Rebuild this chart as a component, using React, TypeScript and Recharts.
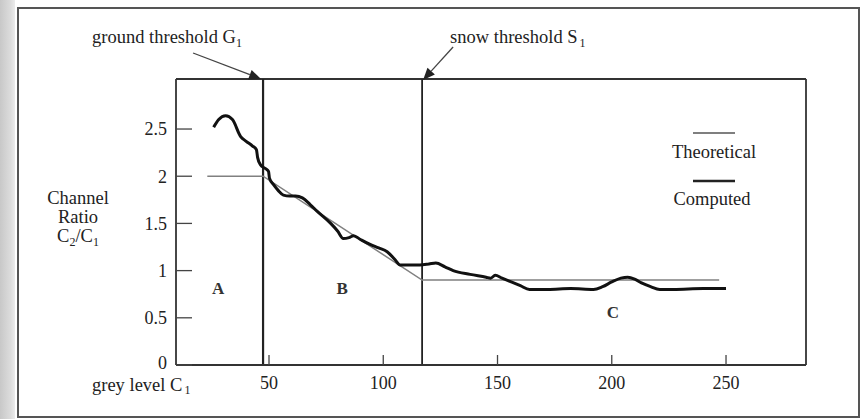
import React from 'react';
import { LineChart, Line, XAxis, YAxis, ReferenceLine, ReferenceDot } from 'recharts';

// ---- data ----
const compX = [25.8, 28, 31, 34, 37.6, 40, 42.8, 44.5, 45.0, 46.3, 48.5, 49.8, 50.2, 52, 54, 56.3, 59, 61.6, 64.6, 68, 71, 77, 80, 82.5, 85, 87, 90, 94, 98, 101.7, 105, 107.4, 112, 116, 120, 123, 127, 130.6, 138, 145, 147, 149, 152, 156, 160, 164, 172, 182, 192, 196, 200, 204, 207, 210, 213, 217, 221, 227, 240, 250];
const compY = [2.52, 2.6, 2.64, 2.6, 2.42, 2.37, 2.32, 2.28, 2.2, 2.12, 2.08, 2.05, 1.98, 1.91, 1.85, 1.8, 1.79, 1.79, 1.77, 1.7, 1.63, 1.5, 1.42, 1.34, 1.35, 1.37, 1.33, 1.28, 1.24, 1.2, 1.12, 1.06, 1.06, 1.06, 1.07, 1.08, 1.04, 1.0, 0.96, 0.93, 0.92, 0.95, 0.92, 0.88, 0.84, 0.8, 0.8, 0.81, 0.8, 0.83, 0.88, 0.92, 0.93, 0.91, 0.87, 0.83, 0.8, 0.8, 0.81, 0.81];

const theoX = [23, 47.4, 117, 247];
const theoY = [2.0, 2.0, 0.9, 0.9];

const groundThreshold = 47.4;
const snowThreshold = 117;

const xTicks = [50, 100, 150, 200, 250];
const yTicks = [0, 0.5, 1, 1.5, 2, 2.5];
const xDomain = [9.3, 285];
const yDomain = [0, 3.03];

const regionLabels = [
  { label: 'A', x: 27.7, y: 0.82 },
  { label: 'B', x: 82, y: 0.82 },
  { label: 'C', x: 200.5, y: 0.56 },
];

const compData = compX.map((x, i) => ({ x, y: compY[i] }));
const theoData = theoX.map((x, i) => ({ x, y: theoY[i] }));

const FONT = '"Liberation Serif", "Times New Roman", serif';
const INK = '#222';

function Arrow({ x1, y1, x2, y2 }: { x1: number; y1: number; x2: number; y2: number }) {
  const dx = x2 - x1;
  const dy = y2 - y1;
  const len = Math.sqrt(dx * dx + dy * dy);
  const ux = dx / len;
  const uy = dy / len;
  const L = 12;
  const W = 5;
  const bx = x2 - ux * L;
  const by = y2 - uy * L;
  const nx = -uy;
  const ny = ux;
  return (
    <g>
      <line x1={x1} y1={y1} x2={bx} y2={by} stroke="#444" strokeWidth={1.3} />
      <polygon
        points={`${x2},${y2} ${bx + nx * W},${by + ny * W} ${bx - nx * W},${by - ny * W}`}
        fill="#222"
      />
    </g>
  );
}

function GroundLabel(props: any) {
  const vb = props.viewBox || {};
  const vx = vb.x;
  const vy = vb.y;
  return (
    <g>
      <Arrow x1={vx - 70} y1={vy - 26} x2={vx - 2} y2={vy} />
      <text x={vx - 171} y={vy - 36} fontFamily={FONT} fontSize={18.5} fill={INK}>
        ground threshold G<tspan fontSize={12} dy={4}>1</tspan>
      </text>
    </g>
  );
}

function SnowLabel(props: any) {
  const vb = props.viewBox || {};
  const vx = vb.x;
  const vy = vb.y;
  return (
    <g>
      <Arrow x1={vx + 31} y1={vy - 32} x2={vx + 1} y2={vy + 1} />
      <text x={vx + 28} y={vy - 36} fontFamily={FONT} fontSize={18.5} fill={INK}>
        snow threshold S<tspan fontSize={12} dy={4} dx={2}>1</tspan>
      </text>
    </g>
  );
}

function YTick(props: any) {
  const { x, y, payload } = props;
  return (
    <g>
      <line x1={x} x2={x + 16} y1={y} y2={y} stroke="#444" strokeWidth={1.3} />
      <text x={x - 9} y={y} dy={payload.value === 0 ? '0.2em' : '0.35em'} textAnchor="end" fontFamily={FONT} fontSize={18} fill={INK}>
        {payload.value}
      </text>
    </g>
  );
}

function XTick(props: any) {
  const { x, y, payload } = props;
  return (
    <g>
      <line x1={x} x2={x} y1={y} y2={y - 10} stroke="#444" strokeWidth={1.3} />
      <text x={x} y={y + 24} textAnchor="middle" fontFamily={FONT} fontSize={18} fill={INK}>
        {payload.value}
      </text>
    </g>
  );
}

function RegionText(label: string) {
  return (props: any) => (
    <text
      x={props.cx}
      y={props.cy}
      dy="0.35em"
      textAnchor="middle"
      fontFamily={FONT}
      fontSize={17}
      fontWeight="bold"
      fill="#333"
    >
      {label}
    </text>
  );
}

export default function App() {
  return (
    <div style={{ position: 'absolute', left: 0, top: 0, width: 863, height: 419, background: '#fff' }}>
      {/* scanned page edge */}
      <div
        style={{
          position: 'absolute',
          left: 0,
          top: 0,
          width: 15,
          height: 419,
          background: 'linear-gradient(90deg, #c8c8c8, #dcdcdc 70%, #ececec)',
        }}
      />
      {/* outer frame */}
      <div
        style={{
          position: 'absolute',
          left: 17,
          top: 7,
          width: 839,
          height: 407,
          border: '2px solid #555',
        }}
      />
      <div style={{ position: 'absolute', left: 0, top: 0 }}>
        <LineChart
          width={863}
          height={419}
          margin={{ top: 79, right: 57, bottom: 24, left: 116 }}
          style={{ fontFamily: FONT }}
        >
          <XAxis
            dataKey="x"
            type="number"
            domain={xDomain}
            ticks={xTicks}
            allowDataOverflow
            height={30}
            tickSize={0}
            tickMargin={0}
            tickLine={false}
            axisLine={{ stroke: '#333', strokeWidth: 2 }}
            tick={<XTick />}
          />
          <YAxis
            dataKey="y"
            type="number"
            domain={yDomain}
            ticks={yTicks}
            allowDataOverflow
            width={60}
            tickSize={0}
            tickMargin={0}
            tickLine={false}
            axisLine={{ stroke: '#333', strokeWidth: 1.8 }}
            tick={<YTick />}
          />
          <ReferenceLine y={yDomain[1]} stroke="#333" strokeWidth={1.8} />
          <ReferenceLine x={xDomain[1]} stroke="#333" strokeWidth={1.8} />
          <ReferenceLine x={groundThreshold} stroke="#222" strokeWidth={2.2} label={<GroundLabel />} />
          <ReferenceLine x={snowThreshold} stroke="#222" strokeWidth={1.8} label={<SnowLabel />} />
          <Line
            data={theoData}
            dataKey="y"
            type="linear"
            stroke="#808080"
            strokeWidth={1.5}
            dot={false}
            isAnimationActive={false}
          />
          <Line
            data={compData}
            dataKey="y"
            type="monotone"
            stroke="#111"
            strokeWidth={3}
            dot={false}
            isAnimationActive={false}
          />
          {regionLabels.map((r) => (
            <ReferenceDot key={r.label} x={r.x} y={r.y} r={1} shape={RegionText(r.label)} />
          ))}
        </LineChart>
      </div>
      {/* axis titles and legend */}
      <svg
        width={863}
        height={419}
        style={{ position: 'absolute', left: 0, top: 0, pointerEvents: 'none' }}
      >
        <g fontFamily={FONT} fontSize={18.5} fill={INK}>
          <text x={78} y={204} textAnchor="middle">Channel</text>
          <text x={78} y={223} textAnchor="middle">Ratio</text>
          <text x={78} y={242} textAnchor="middle">
            C<tspan fontSize={12} dy={4}>2</tspan>
            <tspan dy={-4}>/C</tspan>
            <tspan fontSize={12} dy={4}>1</tspan>
          </text>
          <text x={92} y={391}>
            grey level C<tspan fontSize={12} dy={3} dx={2}>1</tspan>
          </text>
          <line x1={693} x2={735} y1={133} y2={133} stroke="#555" strokeWidth={1.5} />
          <text x={714} y={158} textAnchor="middle">Theoretical</text>
          <line x1={693} x2={735} y1={181} y2={181} stroke="#222" strokeWidth={2.5} />
          <text x={712} y={205} textAnchor="middle">Computed</text>
        </g>
      </svg>
    </div>
  );
}
